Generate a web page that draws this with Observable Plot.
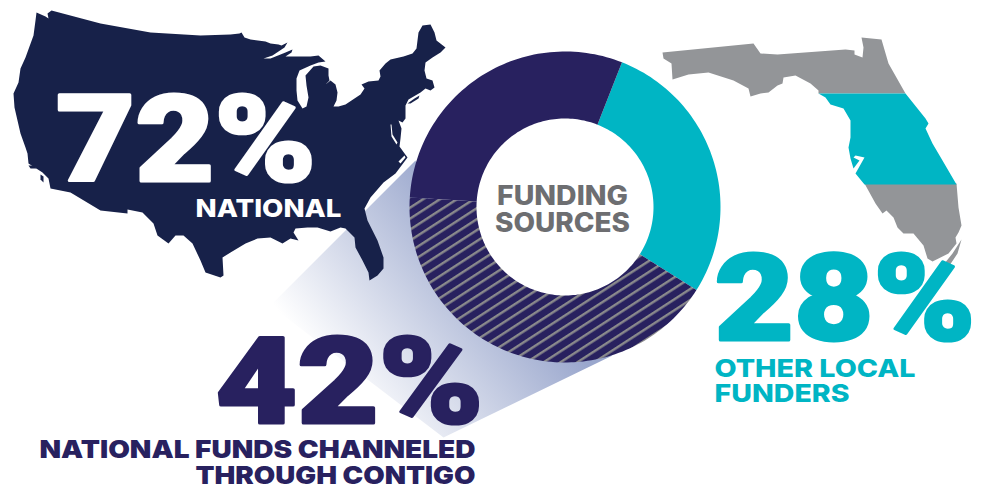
<!DOCTYPE html>
<html><head><meta charset="utf-8">
<style>html,body{margin:0;padding:0;background:#fff;overflow:hidden}svg{display:block}</style>
<script src="https://cdn.jsdelivr.net/npm/d3@7"></script>
<script src="https://cdn.jsdelivr.net/npm/@observablehq/plot@0.6"></script>
</head><body>
<svg width="0" height="0" style="position:absolute">
<defs>
<pattern id="hatch" patternUnits="userSpaceOnUse" width="20" height="9.2" patternTransform="rotate(-33)">
<rect width="20" height="9.2" fill="#28215f"/><rect y="0" width="20" height="2.4" fill="#8a8a8c"/>
</pattern>
<linearGradient id="fade" gradientUnits="userSpaceOnUse" x1="305" y1="345" x2="470" y2="215">
<stop offset="0" stop-color="#ffffff"/><stop offset="1" stop-color="#9aa7cd"/>
</linearGradient>
</defs></svg>
<div id="chart"></div>
<script>
const sources = ["Other local funders", "National funds channeled through Contigo", "National"];
const shares = [28, 42, 30];
const headline = ["72%", "42%", "28%"];

const usOutline = [[36,12],[45,16],[48,18],[47,13],[51,10],[100,23],[150,32],[200,35],[230,34],[239,33],[241,32],[244,37],[250,39],[265,41],[270,43],[278,44],[281,45],[287,42],[284,47],[272,55],[263,58],[270,58],[285,52],[292,49],[291,52],[285,56],[297,56],[310,56],[318,55],[325,61],[318,62],[310,65],[299,70],[296,78],[296,90],[297,100],[302,108],[306,106],[308,97],[306,85],[305,75],[313,66],[320,65],[328,68],[328,75],[329,80],[325,84],[330,80],[335,84],[337,92],[336,100],[333,106],[338,106],[345,104],[360,94],[364,88],[361,84],[368,81],[378,80],[380,76],[379,70],[385,63],[390,59],[403,56],[412,53],[416,48],[418,32],[422,25],[430,24],[434,32],[436,40],[445,47],[440,52],[432,57],[425,62],[424,70],[426,78],[432,80],[434,87],[430,90],[425,88],[420,92],[408,99],[405,105],[405,118],[402,122],[398,120],[401,128],[400,138],[399,146],[407,157],[395,173],[383,182],[370,197],[364,208],[367,220],[377,240],[383,257],[383,268],[377,275],[369,280],[368,272],[362,260],[355,247],[354,237],[345,228],[340,227],[330,231],[317,227],[307,227],[295,228],[293,232],[298,240],[290,238],[282,243],[270,237],[257,238],[245,243],[230,252],[222,257],[223,275],[220,277],[205,272],[200,260],[192,243],[183,235],[175,235],[168,243],[157,235],[153,223],[142,212],[127,209],[127,213],[100,210],[70,192],[50,188],[48,178],[42,172],[28,163],[27,153],[25,147],[20,133],[14,107],[13,93],[18,82],[20,68],[25,57],[33,35],[35,20]];
const longIsland = [[407,103],[414,98],[419,95],[418,98],[410,103]];
const channelIslandA = [[28,165],[33,165],[36,168],[30,168]];
const channelIslandB = [[40,174],[43,176],[43,182],[40,179]];
const chesapeake = [[390,124],[391,124],[392,134],[397,142],[396,144],[391,136]];
const pamlico = [[398,161],[404,155],[405,157],[400,163]];

const flNorth = [[662,52],[753,43],[760,53],[777,54],[845,49],[854,50],[854,54],[862,57],[863,47],[861,37],[881,39],[888,63],[905,93],[818,93],[818,90],[810,83],[795,75],[783,77],[782,83],[777,85],[768,92],[760,93],[750,96],[748,88],[733,80],[708,72],[688,74],[672,79],[671,63],[663,58]];
const flCentral = [[818,93],[905,93],[925,118],[928,123],[925,128],[932,143],[942,160],[956,184],[864,184],[855,173],[864,157],[855,155],[853,157],[859,160],[853,168],[850,158],[848,147],[850,137],[850,120],[843,108],[830,104],[825,97]];
const flSouth = [[864,183],[956,183],[958,207],[961,225],[958,232],[955,237],[956,243],[948,253],[932,261],[927,258],[923,245],[913,233],[903,233],[897,227],[893,217],[886,210],[882,213],[875,203]];
const flKeysA = [[961,239],[957,253],[947,268],[930,279],[930,276],[940,268],[952,253]];
const flKeysB = [[923,280],[913,285],[905,288],[912,283],[917,279]];

const funnel = [[415,160],[270,305],[443,437],[612,355],[520,330],[450,265],[430,205]];

// donut wedges derived from the shares
const cx = 564.5, cy = 206.5, outer = 155.5, inner = 88.5, start = 21.5;
function wedge(a0, a1) {
  const n = Math.ceil((a1 - a0) / 1.5), pts = [];
  const p = (a, r) => [cx + r * Math.sin(a * Math.PI / 180), cy - r * Math.cos(a * Math.PI / 180)];
  for (let i = 0; i <= n; i++) pts.push(p(a0 + (a1 - a0) * i / n, outer));
  for (let i = n; i >= 0; i--) pts.push(p(a0 + (a1 - a0) * i / n, inner));
  return pts;
}
const total = d3.sum(shares);
let acc = start;
const wedges = shares.map(s => { const w = wedge(acc, acc + s / total * 360); acc += s / total * 360; return w; });

const shape = (pts, fill) => Plot.line(pts, {x: d => d[0], y: d => d[1], fill, stroke: "none", curve: "linear-closed"});
const label = (text, x, y, fontSize, fill, anchor = "start", fontFamily = "Inter, sans-serif", fontWeight = 800) =>
  Plot.text([text], {x: () => x, y: () => y, text: d => d, fontSize, fill, fontWeight, fontFamily, textAnchor: anchor, lineAnchor: "bottom"});
const big = (text, x, y, fill) => Plot.text([text], {x: () => x, y: () => y, text: d => d, fontSize: 121, fill, stroke: fill, strokeWidth: 3, fontWeight: 900, fontFamily: "Roboto, sans-serif", textAnchor: "start", lineAnchor: "bottom"});

const NAVY = "#28215f", US = "#172149", TEAL = "#00b5c4", GRAY = "#939598";

const plot = Plot.plot({
  width: 983, height: 487, margin: 0,
  x: {domain: [0, 983], range: [0, 983], axis: null},
  y: {domain: [0, 487], range: [0, 487], axis: null},
  marks: [
    shape(funnel, "url(#fade)"),
    shape(usOutline, US), shape(longIsland, US), shape(channelIslandA, US), shape(channelIslandB, US),
    shape(chesapeake, "#ffffff"), shape(pamlico, "#ffffff"),
    shape(wedges[0], TEAL), shape(wedges[1], "url(#hatch)"), shape(wedges[2], NAVY),
    shape(flNorth, GRAY), shape(flSouth, GRAY), shape(flKeysA, GRAY), shape(flKeysB, GRAY), shape(flCentral, TEAL),
    big(headline[0], 55.5, 180, "#ffffff"),
    label("NATIONAL", 195, 216, 25, "#ffffff"),
    label("FUNDING", 562, 204, 27, "#6d6e71", "middle"),
    label("SOURCES", 562, 231, 27, "#6d6e71", "middle"),
    big(headline[1], 215, 422, NAVY),
    label("NATIONAL FUNDS CHANNELED", 475, 457, 25, NAVY, "end", "Inter, sans-serif", 900),
    label("THROUGH CONTIGO", 475, 483, 25, NAVY, "end", "Inter, sans-serif", 900),
    big(headline[2], 714, 339, TEAL),
    label("OTHER LOCAL", 714, 376, 25, TEAL),
    label("FUNDERS", 714, 401, 25, TEAL)
  ]
});
document.getElementById("chart").appendChild(plot);

// widen lettering to the reference's extended typeface
const textWidths = {"72%": 260, "42%": 268, "28%": 261, "NATIONAL": 146, "FUNDING": 131, "SOURCES": 135,
  "NATIONAL FUNDS CHANNELED": 436, "THROUGH CONTIGO": 280, "OTHER LOCAL": 201, "FUNDERS": 135};
d3.select(plot).selectAll("text").each(function () {
  const w = textWidths[this.textContent];
  if (w) { this.setAttribute("textLength", w); this.setAttribute("lengthAdjust", "spacingAndGlyphs"); }
});
</script>
</body></html>
